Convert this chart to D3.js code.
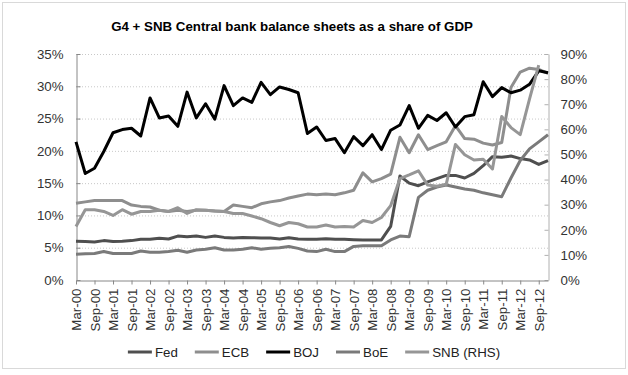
<!DOCTYPE html>
<html>
<head>
<meta charset="utf-8">
<script src="https://cdn.jsdelivr.net/npm/d3@7"></script>
<style>
  body { margin: 0; background: #fff; }
  text { font-family: Arial, "Liberation Sans", sans-serif; }
</style>
</head>
<body>
<div id="viz"></div>
<script>
const width = 628;
const height = 375;
const plot = {left: 76, right: 548, top: 54, bottom: 280};

// quarterly observations, Mar-00 .. Dec-12
const quarters = [
  'Mar-00','Jun-00','Sep-00','Dec-00','Mar-01','Jun-01','Sep-01','Dec-01',
  'Mar-02','Jun-02','Sep-02','Dec-02','Mar-03','Jun-03','Sep-03','Dec-03',
  'Mar-04','Jun-04','Sep-04','Dec-04','Mar-05','Jun-05','Sep-05','Dec-05',
  'Mar-06','Jun-06','Sep-06','Dec-06','Mar-07','Jun-07','Sep-07','Dec-07',
  'Mar-08','Jun-08','Sep-08','Dec-08','Mar-09','Jun-09','Sep-09','Dec-09',
  'Mar-10','Jun-10','Sep-10','Dec-10','Mar-11','Jun-11','Sep-11','Dec-11',
  'Mar-12','Jun-12','Sep-12','Dec-12'
];

// % of GDP, left axis
const fed = [
  6.0, 5.95, 5.9, 6.1,   5.95, 6.0, 6.1, 6.3,   6.3, 6.45, 6.35, 6.8,
  6.7, 6.8, 6.6, 6.8,    6.6, 6.5, 6.6, 6.55,   6.5, 6.5, 6.35, 6.55,
  6.35, 6.3, 6.3, 6.4,   6.3, 6.3, 6.25, 6.2,   6.2, 6.2, 8.3, 16.1,
  15.0, 14.6, 15.2, 15.7, 16.2, 16.2, 15.8, 16.5, 17.7, 19.1, 19.0, 19.2,
  18.8, 18.6, 17.9, 18.5
];
const ecb = [
  11.9, 12.1, 12.3, 12.3, 12.3, 12.3, 11.6, 11.4, 11.3, 10.8, 10.6, 10.8,
  10.6, 10.8, 10.8, 10.7, 10.6, 11.6, 11.4, 11.2, 11.8, 12.1, 12.3, 12.7,
  13.0, 13.3, 13.2, 13.3, 13.2, 13.5, 13.9, 16.6, 15.2, 15.7, 16.4, 22.1,
  19.7, 22.5, 20.2, 20.8, 21.4, 23.9, 21.9, 21.8, 21.2, 20.9, 21.3, 29.8,
  32.2, 32.8, 32.6, 32.0
];
const boj = [
  21.4, 16.5, 17.3, 19.9, 22.8, 23.3, 23.5, 22.3, 28.2, 25.1, 25.4, 23.8,
  29.1, 25.1, 27.3, 24.9, 30.1, 27.0, 28.2, 27.5, 30.6, 28.7, 29.9, 29.5,
  29.0, 22.7, 23.7, 21.6, 21.9, 19.7, 22.2, 20.8, 22.5, 20.2, 23.2, 24.0,
  27.0, 23.5, 25.5, 24.7, 25.9, 23.7, 25.3, 25.6, 30.7, 28.4, 29.8, 29.0,
  29.4, 30.3, 32.4, 32.1
];
const boe = [
  4.0, 4.05, 4.1, 4.4,   4.1, 4.1, 4.1, 4.5,    4.3, 4.3, 4.4, 4.6,
  4.3, 4.65, 4.75, 5.0,  4.65, 4.65, 4.75, 5.0, 4.75, 4.9, 5.0, 5.2,
  4.9, 4.5, 4.4, 4.75,   4.4, 4.4, 5.2, 5.3,    5.3, 5.3, 6.2, 6.8,
  6.7, 12.8, 13.9, 14.4, 14.7, 14.4, 14.1, 13.9, 13.5, 13.2, 12.9, 15.8,
  18.5, 20.3, 21.4, 22.5
];
// % of GDP, right axis (no Dec-12 value)
const snb = [
  21.3, 28.0, 28.0, 27.3, 25.7, 28.0, 26.2, 27.3, 27.3, 27.8, 27.3, 28.8,
  26.5, 28.0, 27.8, 27.5, 27.3, 26.5, 26.5, 25.5, 24.4, 22.9, 21.6, 22.9,
  22.4, 21.1, 21.1, 21.9, 21.1, 21.3, 21.1, 23.7, 22.9, 24.9, 29.6, 40.4,
  41.9, 43.5, 37.8, 37.3, 38.1, 54.0, 49.9, 47.8, 48.1, 44.2, 65.1, 60.7,
  57.9, 72.0, 85.6, null
];

const leftTicks = [0, 5, 10, 15, 20, 25, 30, 35];
const rightTicks = [0, 10, 20, 30, 40, 50, 60, 70, 80, 90];

const series = [
  {name: 'Fed', values: fed, axis: 'left', color: '#4f4f4f'},
  {name: 'ECB', values: ecb, axis: 'left', color: '#8e8e8e'},
  {name: 'BOJ', values: boj, axis: 'left', color: '#000000'},
  {name: 'BoE', values: boe, axis: 'left', color: '#7a7a7a'},
  {name: 'SNB (RHS)', values: snb, axis: 'right', color: '#969696'}
];

const svg = d3.select('#viz').append('svg')
    .attr('width', width)
    .attr('height', height);

svg.append('rect')
    .attr('x', 2.5).attr('y', 2.5)
    .attr('width', width - 5).attr('height', 366)
    .attr('fill', '#fff')
    .attr('stroke', '#d9d9d9');

const x = d3.scalePoint().domain(quarters).range([plot.left, plot.right]);
const yLeft = d3.scaleLinear().domain([0, 35]).range([plot.bottom, plot.top]);
const yRight = d3.scaleLinear().domain([0, 90]).range([plot.bottom, plot.top]);

// dotted gridlines
svg.append('g')
  .selectAll('line')
  .data(leftTicks.slice(1))
  .join('line')
    .attr('x1', plot.left).attr('x2', plot.right)
    .attr('y1', d => yLeft(d) + 0.5).attr('y2', d => yLeft(d) + 0.5)
    .attr('stroke', '#c8c8c8')
    .attr('stroke-dasharray', '1,2');

// title
svg.append('text')
    .attr('x', 292).attr('y', 31)
    .attr('text-anchor', 'middle')
    .style('font-size', '13.3px')
    .style('font-weight', 'bold')
    .text('G4 + SNB Central bank balance sheets as a share of GDP');

function styleAxis(g, lineColor) {
  g.select('.domain').attr('stroke', lineColor);
  g.selectAll('.tick line').attr('stroke', lineColor);
  g.selectAll('.tick text').attr('fill', '#333').style('font-size', '13.3px');
}

const leftAxis = svg.append('g')
    .attr('transform', `translate(${plot.left + 0.5},0)`)
    .call(d3.axisLeft(yLeft).tickValues(leftTicks).tickFormat(d => d + '%')
      .tickSizeInner(-4).tickSizeOuter(0).tickPadding(13));
styleAxis(leftAxis, '#888');

const rightAxis = svg.append('g')
    .attr('transform', `translate(${plot.right + 0.5},0)`)
    .call(d3.axisRight(yRight).tickValues(rightTicks).tickFormat(d => d + '%')
      .tickSizeInner(-4).tickSizeOuter(0).tickPadding(12));
styleAxis(rightAxis, '#b0b0b0');

const xAxis = svg.append('g')
    .attr('transform', `translate(0,${plot.bottom + 0.5})`)
    .call(d3.axisBottom(x).tickValues(quarters.filter((d, i) => i % 2 === 0))
      .tickSizeInner(4).tickSizeOuter(0));
styleAxis(xAxis, '#888');
xAxis.selectAll('.tick text')
    .attr('transform', 'rotate(-90)')
    .attr('text-anchor', 'end')
    .attr('x', -8).attr('y', 0).attr('dy', '0.35em');

// series lines
const lineFor = scale => d3.line()
    .defined(d => d != null)
    .x((d, i) => x(quarters[i]))
    .y(d => scale(d));

svg.append('g')
  .selectAll('path')
  .data(series)
  .join('path')
    .attr('d', s => lineFor(s.axis === 'left' ? yLeft : yRight)(s.values))
    .attr('fill', 'none')
    .attr('stroke', s => s.color)
    .attr('stroke-width', 3)
    .attr('stroke-linejoin', 'round');

// legend
const legend = svg.append('g');
let lx = 0;
series.forEach(s => {
  const item = legend.append('g').attr('transform', `translate(${lx},0)`);
  item.append('line')
      .attr('x1', 0).attr('x2', 24)
      .attr('stroke', s.color).attr('stroke-width', 3);
  const t = item.append('text')
      .attr('x', 27).attr('dy', '0.35em')
      .style('font-size', '13.3px')
      .attr('fill', '#222')
      .text(s.name);
  lx += 27 + t.node().getComputedTextLength() + 17;
});
lx -= 17;
legend.attr('transform', `translate(${314 - lx / 2},352)`);
</script>
</body>
</html>
